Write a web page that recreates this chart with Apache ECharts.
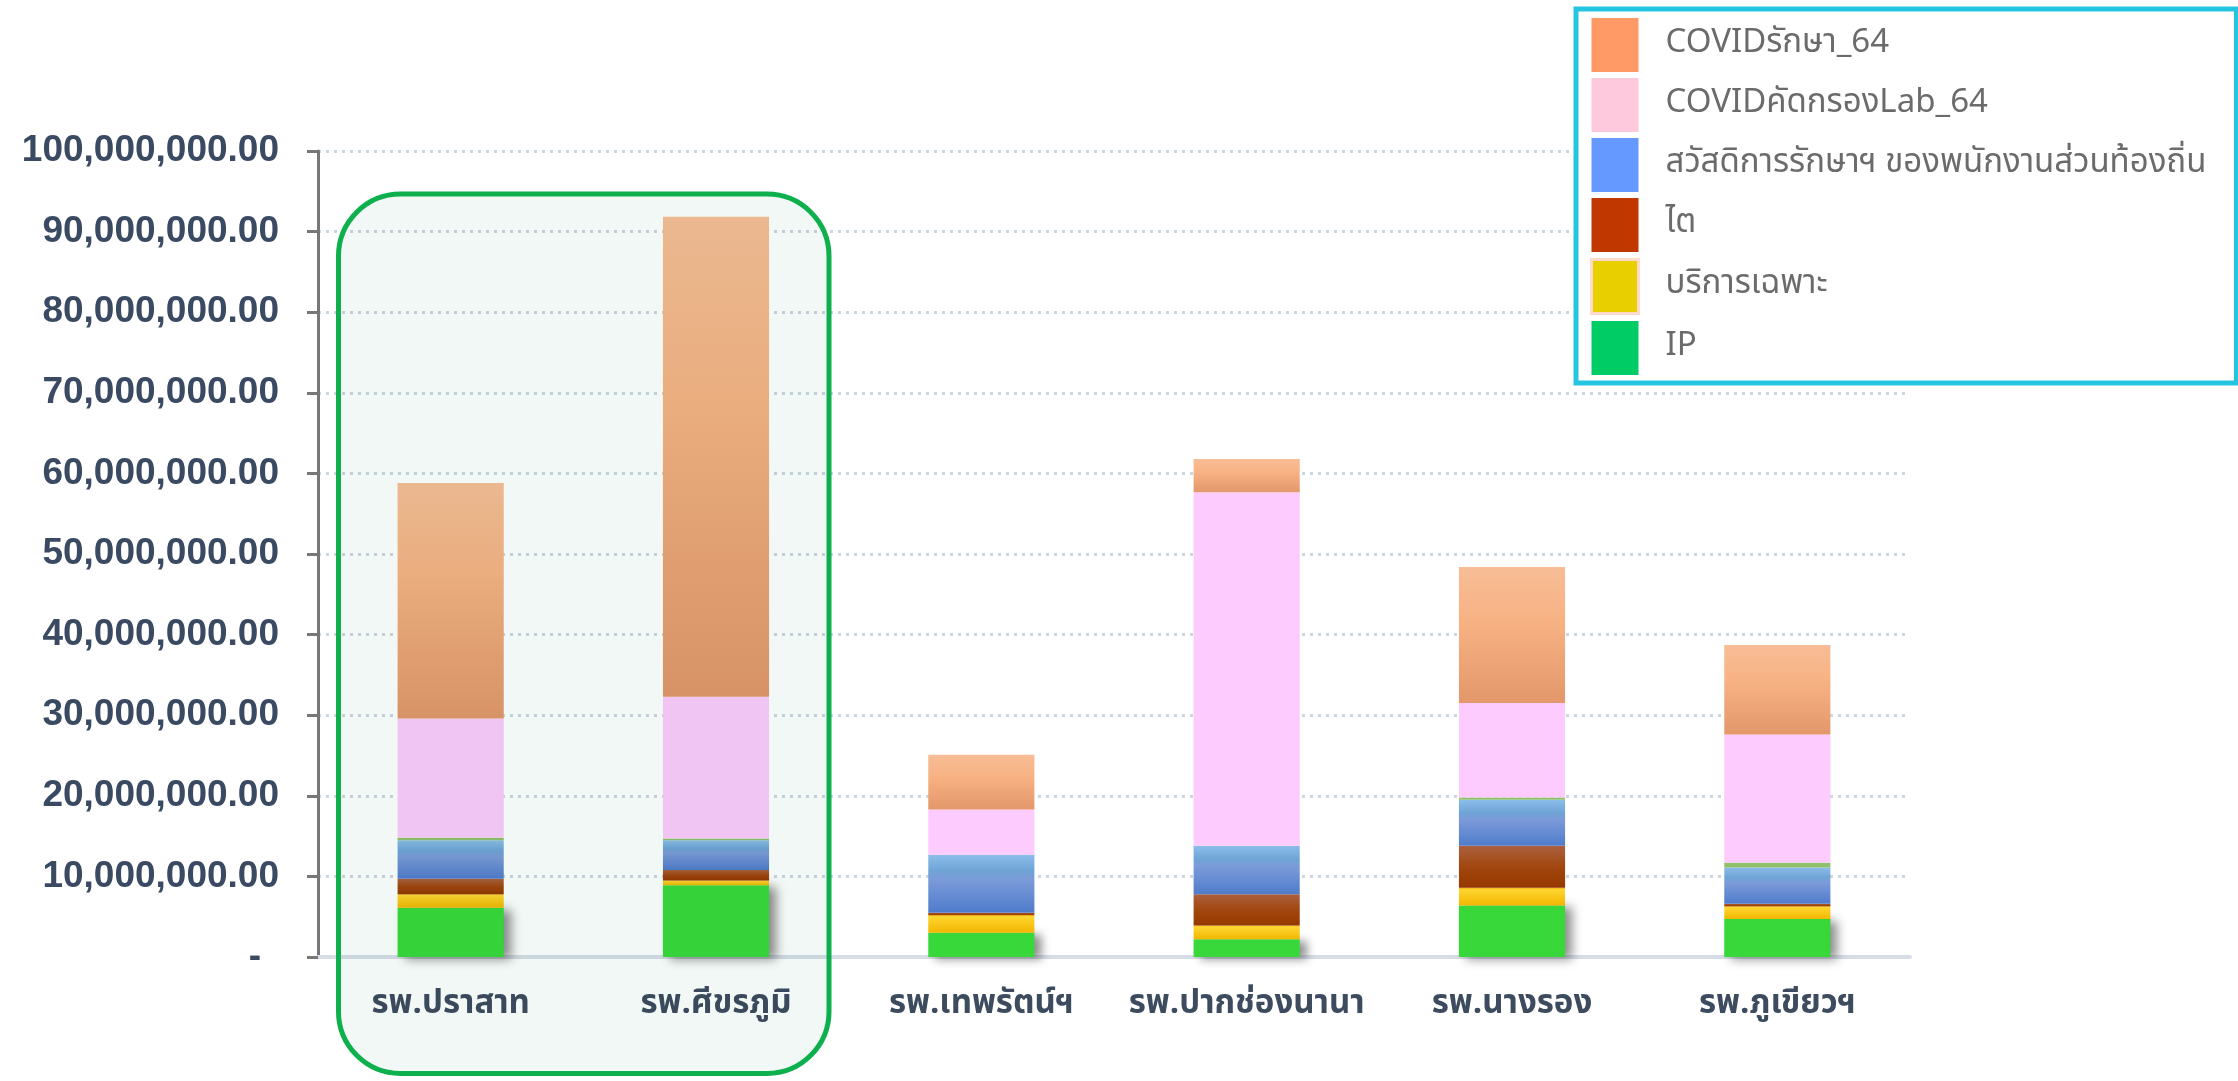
<!DOCTYPE html>
<html>
<head>
<meta charset="utf-8">
<script src="https://cdn.jsdelivr.net/npm/echarts@6/dist/echarts.min.js"></script>
<style>
html,body{margin:0;padding:0;background:#fff;}
#c{width:2238px;height:1081px;}
</style>
</head>
<body>
<div id="c"></div>
<script>
var categories = ['รพ.ปราสาท', 'รพ.ศีขรภูมิ', 'รพ.เทพรัตน์ฯ', 'รพ.ปากช่องนานา', 'รพ.นางรอง', 'รพ.ภูเขียวฯ'];
var ipValues       = [6100000, 8900000, 3000000, 2200000, 6400000, 4700000];
var serviceValues  = [1700000,  600000, 2200000, 1700000, 2200000, 1600000];
var kidneyValues   = [1900000, 1300000,  300000, 3900000, 5200000,  300000];
var welfareValues  = [4800000, 3700000, 7200000, 6000000, 5700000, 4500000];
var otherValues    = [ 300000,  200000,       0,       0,  300000,  600000];
var labValues      = [14800000, 17600000, 5600000, 43850000, 11700000, 15900000];
var treatValues    = [29200000, 59550000, 6800000, 4150000, 16900000, 11100000];
var yTicks = { min: 0, max: 100000000, interval: 10000000 };

var FONT = "'Liberation Sans', Arial, sans-serif";
var THAI = "Tahoma, 'Noto Sans Thai', 'Noto Sans', 'DejaVu Sans', sans-serif";

function grad(stops) {
  return { type: 'linear', x: 0, y: 0, x2: 0, y2: 1,
    colorStops: stops.map(function (s) { return { offset: s[0], color: s[1] }; }) };
}

var chart = echarts.init(document.getElementById('c'));

var option = {
  backgroundColor: '#ffffff',
  animation: false,
  grid: { left: 318, right: 328, top: 151, bottom: 124 },
  legend: {
    orient: 'vertical',
    left: 1576, top: 9,
    padding: [9, 30, 8, 14],
    itemWidth: 47, itemHeight: 54, itemGap: 6,
    backgroundColor: '#ffffff',
    borderColor: '#25c4e0', borderWidth: 5,
    selectedMode: false,
    textStyle: { fontFamily: THAI, fontSize: 33, color: '#6b6b6b', padding: [12, 0, 0, 22] },
    data: [
      { name: 'COVIDรักษา_64', icon: 'rect', itemStyle: { color: '#ff9a66' } },
      { name: 'COVIDคัดกรองLab_64', icon: 'rect', itemStyle: { color: '#ffc9dd' } },
      { name: 'สวัสดิการรักษาฯ ของพนักงานส่วนท้องถิ่น', icon: 'rect', itemStyle: { color: '#6699ff' } },
      { name: 'ไต', icon: 'rect', itemStyle: { color: '#c03800' } },
      { name: 'บริการเฉพาะ', icon: 'rect', itemStyle: { color: '#e8cf00', borderColor: '#ffd9c9', borderWidth: 3 } },
      { name: 'IP', icon: 'rect', itemStyle: { color: '#00cc66' } }
    ]
  },
  xAxis: {
    type: 'category',
    data: categories,
    axisLine: { show: true, lineStyle: { color: '#d6dde6', width: 4 } },
    axisTick: { show: false },
    axisLabel: { interval: 0, hideOverlap: false, fontFamily: THAI, fontSize: 33, fontWeight: 'bold', color: '#3d4b5f', margin: 33 },
    splitLine: { show: false }
  },
  yAxis: {
    type: 'value',
    min: yTicks.min, max: yTicks.max, interval: yTicks.interval,
    axisLine: { show: true, lineStyle: { color: '#777777', width: 3 } },
    axisTick: { show: true, length: 11, lineStyle: { color: '#777777', width: 3 } },
    axisLabel: {
      fontFamily: FONT, fontSize: 37, fontWeight: 'bold', color: '#3a4a62', margin: 39,
      formatter: function (v) {
        if (v === 0) return '{z|-}';
        return v.toLocaleString('en-US', { minimumFractionDigits: 2, maximumFractionDigits: 2 });
      },
      rich: { z: { fontFamily: FONT, fontSize: 37, fontWeight: 'bold', color: '#3a4a62', padding: [0, 18, 0, 0] } }
    },
    splitLine: { show: true, lineStyle: { color: '#cdd5df', width: 3, type: [3, 5] } }
  },
  series: [
    { name: 'IP', type: 'bar', stack: 't', barWidth: '40%', data: ipValues,
      itemStyle: { color: '#38d83b', shadowColor: 'rgba(0,0,0,0.45)', shadowBlur: 10, shadowOffsetX: 7, shadowOffsetY: 2 } },
    { name: 'บริการเฉพาะ', type: 'bar', stack: 't', data: serviceValues,
      itemStyle: { color: grad([[0, '#e99c12'], [0.08, '#ffd631'], [1, '#f2b600']]) } },
    { name: 'ไต', type: 'bar', stack: 't', data: kidneyValues,
      itemStyle: { color: grad([[0, '#ab6040'], [0.5, '#a2470f'], [1, '#953800']]) } },
    { name: 'สวัสดิการรักษาฯ ของพนักงานส่วนท้องถิ่น', type: 'bar', stack: 't', data: welfareValues,
      itemStyle: { color: grad([[0, '#8bbde9'], [0.28, '#6ea4d6'], [0.42, '#7c9bd9'], [1, '#4f7ccc']]) } },
    { name: 'อื่นๆ', type: 'bar', stack: 't', data: otherValues,
      itemStyle: { color: '#8fc06c' } },
    { name: 'COVIDคัดกรองLab_64', type: 'bar', stack: 't', data: labValues,
      itemStyle: { color: '#fdcbfd' } },
    { name: 'COVIDรักษา_64', type: 'bar', stack: 't', data: treatValues,
      itemStyle: { color: grad([[0, '#f8bd96'], [0.4, '#f7b283'], [1, '#e3976a']]) } }
  ],
  graphic: [
    { type: 'rect', silent: true, z: 100,
      shape: { x: 338.5, y: 194, width: 490.5, height: 879.5, r: 62 },
      style: { fill: '#f2f8f5', blend: 'multiply' } },
    { type: 'rect', silent: true, z: 101,
      shape: { x: 338.5, y: 194, width: 490.5, height: 879.5, r: 62 },
      style: { fill: 'none', stroke: '#0db04d', lineWidth: 5 } }
  ]
};
chart.setOption(option);
</script>
</body>
</html>
